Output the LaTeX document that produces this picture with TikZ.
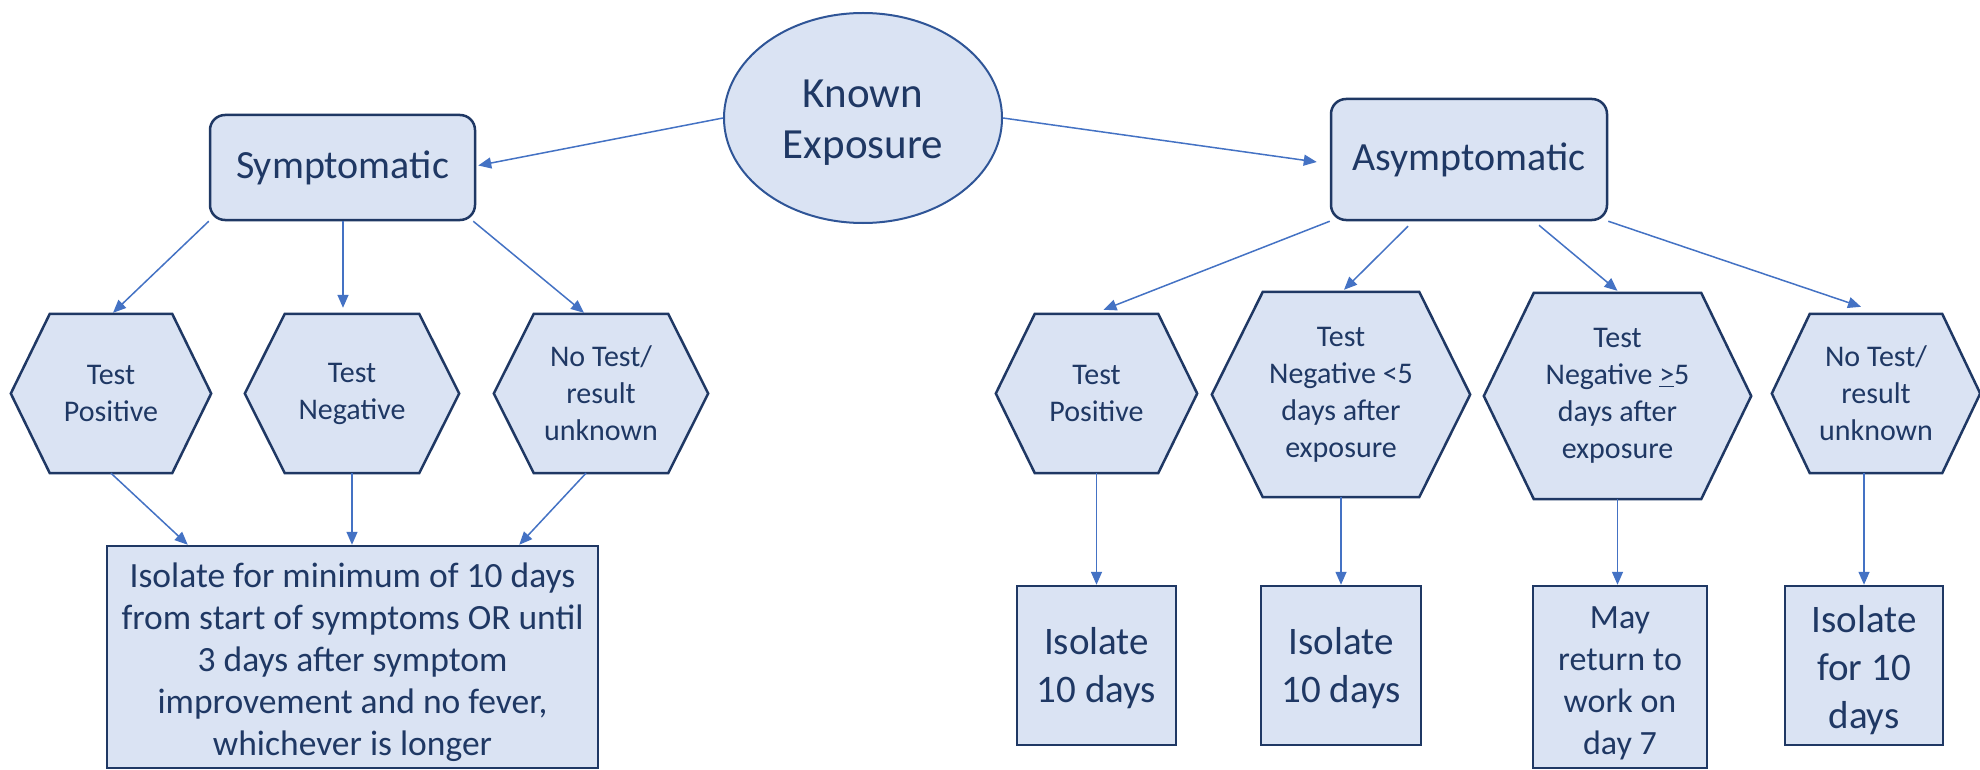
\documentclass[tikz,border=0pt]{standalone}
\usepackage{fontspec}
\setmainfont{Carlito}
\usetikzlibrary{arrows.meta,shapes.geometric}
\definecolor{boxfill}{HTML}{DAE3F3}
\definecolor{boxline}{HTML}{1F3864}
\definecolor{ellline}{HTML}{2F5597}
\definecolor{txt}{HTML}{1F3864}
\definecolor{arr}{HTML}{4472C4}
\pgfdeclarelayer{paper}
\pgfdeclarelayer{bg}
\pgfsetlayers{paper,bg,main}
\newcommand\myhex[2]{%
  \begin{pgfonlayer}{bg}
    \draw[hexline] ([xshift=#2pt]#1.north west) -- ([xshift=-#2pt]#1.north east) -- (#1.east)
      -- ([xshift=-#2pt]#1.south east) -- ([xshift=#2pt]#1.south west) -- (#1.west) -- cycle;
  \end{pgfonlayer}}
\tikzset{
  every node/.style={text=txt, align=center, inner sep=0pt},
  ell/.style={ellipse, draw=ellline, line width=2pt, fill=boxfill, minimum width=278pt, minimum height=210pt},
  elltxt/.style={font=\fontsize{43}{51}\selectfont},
  rbox/.style={rectangle, rounded corners=15pt, draw=boxline, line width=2.5pt, fill=boxfill, font=\fontsize{40}{48}\selectfont},
  hexnode/.style={rectangle, font=\fontsize{30}{37}\selectfont},
  hexline/.style={draw=boxline, line width=2.5pt, fill=boxfill, line join=miter},
  sbox/.style={rectangle, draw=boxline, line width=2.5pt, fill=boxfill},
  bigtxt/.style={font=\fontsize{39}{48}\selectfont},
  midtxt/.style={font=\fontsize{34}{42}\selectfont},
  lefttxt/.style={font=\fontsize{35.5}{42}\selectfont},
  conn/.style={draw=arr, line width=1.5pt, -{Triangle[length=13pt,width=11pt]}},
}
\begin{document}
\begin{tikzpicture}[x=1pt,y=-1pt]
\begin{pgfonlayer}{paper}
\fill[white] (0,0) rectangle (1980,770);
\end{pgfonlayer}
\useasboundingbox (0,0) rectangle (1980,770);

% top level
\node[ell] (ke) at (863,118) {};
\node[elltxt] (ketext) at ([yshift=-5pt]ke.center) {Known\\Exposure};
\node[rbox, minimum width=265pt, minimum height=105pt] (sym) at (342.5,167.5) {Symptomatic};
\node[rbox, minimum width=276pt, minimum height=121pt] (asym) at (1469,159.5) {Asymptomatic};

% symptomatic hexagons
\node[hexnode, minimum width=200pt, minimum height=159pt] (h1) at (111,393.5) {Test\\Positive};
\node[hexnode, minimum width=214pt, minimum height=159pt] (h2) at (352,393.5) {Test\\Negative};
\node[hexnode, minimum width=214pt, minimum height=159pt] (h3) at (601,393.5) {No Test/\\result\\unknown};
\myhex{h1}{39}
\myhex{h2}{40}
\myhex{h3}{40}

% asymptomatic hexagons
\node[hexnode, minimum width=201pt, minimum height=159pt] (hA) at (1096.5,393.5) {Test\\Positive};
\node[hexnode, minimum width=258pt, minimum height=205pt] (hB) at (1341,394.5) {Test\\Negative <5\\days after\\exposure};
\node[hexnode, minimum width=267pt, minimum height=206pt] (hC) at (1617.5,396) {Test\\Negative \underline{>}5\\days after\\exposure};
\node[hexnode, minimum width=208pt, minimum height=159pt] (hD) at (1876,393.5) {No Test/\\result\\unknown};
\myhex{hA}{39}
\myhex{hB}{51}
\myhex{hC}{50}
\myhex{hD}{38}

% outcome boxes
\node[sbox, minimum width=491pt, minimum height=222pt] (bL) at (352.5,657) {};
\node[lefttxt] (bLtext) at ([yshift=-5pt]bL.center)
  {Isolate for minimum of 10 days\\from start of symptoms OR until\\3 days after symptom\\improvement and no fever,\\whichever is longer};
\node[sbox, minimum width=159pt, minimum height=159pt] (bA) at (1096.5,665.5) {};
\node[bigtxt] (bAtext) at ([yshift=-3pt]bA.center) {Isolate\\10 days};
\node[sbox, minimum width=160pt, minimum height=159pt] (bB) at (1341,665.5) {};
\node[bigtxt] (bBtext) at ([yshift=-3pt]bB.center) {Isolate\\10 days};
\node[sbox, minimum width=174pt, minimum height=182pt] (bC) at (1620,677) {};
\node[midtxt] (bCtext) at ([yshift=-6pt]bC.center) {May\\return to\\work on\\day 7};
\node[sbox, minimum width=158pt, minimum height=159pt] (bD) at (1864,665.5) {};
\node[bigtxt] (bDtext) at ([yshift=-5pt]bD.center) {Isolate\\for 10\\days};

% connectors
\draw[conn] (ke.west) -- ([xshift=2pt,yshift=2pt]sym.east);
\draw[conn] (ke.east) -- ([xshift=-13pt,yshift=-2.5pt]asym.west);

\draw[conn] (sym.south west) -- ([xshift=2pt,yshift=1pt]h1.north);
\draw[conn] ([xshift=0.5pt]sym.south) -- ([xshift=-9pt,yshift=6pt]h2.north);
\draw[conn] ([xshift=-3pt]sym.south east) -- ([xshift=-17pt,yshift=1pt]h3.north);

\draw[conn] (h1.south) -- ([xshift=82pt]bL.north west);
\draw[conn] (h2.south) -- (h2.south |- bL.north);
\draw[conn] ([xshift=-15pt]h3.south) -- ([xshift=-80pt]bL.north east);

\draw[conn] (asym.south west) -- ([xshift=7pt,yshift=4pt]hA.north);
\draw[conn] ([xshift=-61pt,yshift=-5pt]asym.south) -- ([xshift=3pt,yshift=2pt]hB.north);
\draw[conn] ([xshift=70pt,yshift=-4pt]asym.south) -- ([yshift=2pt]hC.north);
\draw[conn] (asym.south east) -- ([xshift=-15pt,yshift=7pt]hD.north);

\draw[conn] (hA.south) -- (bA.north);
\draw[conn] (hB.south) -- (bB.north);
\draw[conn] (hC.south) -- (hC.south |- bC.north);
\draw[conn] (bD.north |- hD.south) -- (bD.north);
\end{tikzpicture}
\end{document}
